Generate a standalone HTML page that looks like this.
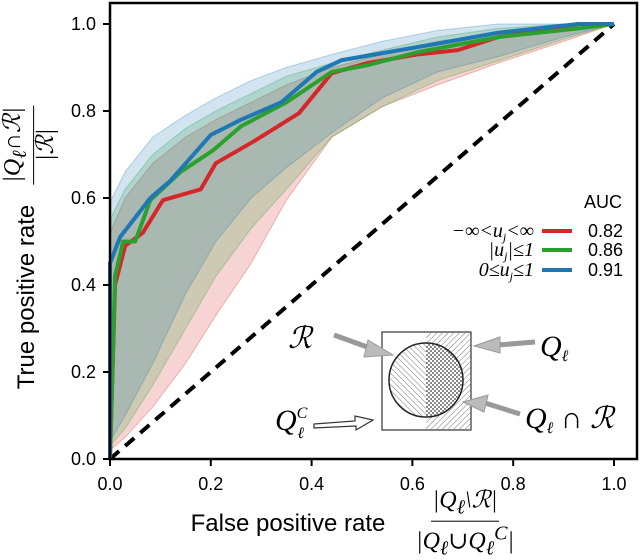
<!DOCTYPE html>
<html><head><meta charset="utf-8"><style>
body{margin:0;background:#fff;}
#wrap{position:relative;width:640px;height:560px;overflow:hidden;font-family:"Liberation Sans",sans-serif;}
.m{font-family:"Liberation Serif","DejaVu Serif",serif;font-style:italic;}
.frac{position:absolute;display:flex;flex-direction:column;align-items:center;font-size:24px;line-height:25px;white-space:nowrap;}
.frac .num{border-bottom:1.5px solid #000;padding:0 2px;}
</style></head><body>
<div id="wrap">
<svg id="chart" width="640" height="560" style="position:absolute;left:0;top:0">
<defs>
<pattern id="hatchA" width="4" height="4" patternUnits="userSpaceOnUse" patternTransform="rotate(45)"><line x1="0" y1="0" x2="0" y2="4" stroke="#777" stroke-width="1"/></pattern>
<pattern id="hatchB" width="4" height="4" patternUnits="userSpaceOnUse" patternTransform="rotate(-45)"><line x1="0" y1="0" x2="0" y2="4" stroke="#777" stroke-width="1"/></pattern>
<pattern id="check" width="4" height="4" patternUnits="userSpaceOnUse"><rect width="2" height="2" fill="#888"/><rect x="2" y="2" width="2" height="2" fill="#888"/></pattern>
</defs>
<g id="bands"></g><g id="lines"></g><g id="axes"></g>
</svg>
<div class="frac" style="left:465px;top:525px;transform:translate(-50%,-50%)"><span class="num m">|Q<sub>ℓ</sub>\ℛ|</span><span class="m">|Q<sub>ℓ</sub>∪Q<sub>ℓ</sub><sup>C</sup>|</span></div>
<div style="position:absolute;left:288px;top:524px;transform:translate(-50%,-50%);font-size:24px;white-space:nowrap">False positive rate</div>
<div style="position:absolute;left:27px;top:297px;transform:translate(-50%,-50%) rotate(-90deg);font-size:24px;white-space:nowrap">True positive rate</div>
<div class="frac" style="left:30px;top:145px;transform:translate(-50%,-50%) rotate(-90deg)"><span class="num m">|Q<sub>ℓ</sub>∩ℛ|</span><span class="m">|ℛ|</span></div>
</div>
<script>
const fprBlue=[0,0,0.02,0.08,0.12,0.20,0.26,0.34,0.41,0.46,0.675,0.77,0.93,1.0];
const tprBlue=[0,0.45,0.51,0.60,0.64,0.745,0.78,0.82,0.89,0.917,0.96,0.98,1.0,1.0];
const fprGreen=[0,0.01,0.026,0.05,0.08,0.14,0.205,0.26,0.35,0.44,0.51,0.61,0.77,0.93,1.0];
const tprGreen=[0,0.42,0.50,0.50,0.595,0.66,0.71,0.765,0.82,0.89,0.905,0.935,0.97,0.99,1.0];
const fprRed=[0,0.01,0.03,0.065,0.105,0.18,0.21,0.285,0.375,0.44,0.51,0.61,0.69,0.77,0.93,1.0];
const tprRed=[0,0.40,0.49,0.52,0.595,0.62,0.68,0.73,0.795,0.887,0.91,0.93,0.94,0.97,1.0,1.0];
const bandX=[0,0.03,0.085,0.15,0.21,0.28,0.35,0.44,0.54,0.65,0.77,0.9,1.0];
const blueUp=[0.59,0.66,0.74,0.79,0.83,0.87,0.90,0.93,0.96,0.985,1.0,1.0,1.0];
const greenUp=[0.55,0.62,0.70,0.76,0.80,0.84,0.88,0.91,0.94,0.97,0.99,1.0,1.0];
const redUp=[0.52,0.60,0.68,0.74,0.78,0.82,0.86,0.90,0.93,0.96,0.98,1.0,1.0];
const blueLow=[0.04,0.10,0.22,0.38,0.50,0.60,0.67,0.75,0.83,0.89,0.925,0.97,1.0];
const greenLow=[0.03,0.07,0.17,0.30,0.42,0.53,0.62,0.74,0.81,0.87,0.915,0.965,1.0];
const redLow=[0.02,0.05,0.12,0.22,0.33,0.45,0.595,0.74,0.81,0.86,0.91,0.96,1.0];
const xTicks=[0,0.2,0.4,0.6,0.8,1.0];
const yTicks=[0,0.2,0.4,0.6,0.8,1.0];
const ns="http://www.w3.org/2000/svg";
const X=v=>110+v*504, Y=v=>459-v*435;
function mk(tag,parent){const e=document.createElementNS(ns,tag);document.getElementById(parent).appendChild(e);return e;}
function band(up,low,col,name){
  let d="M"+bandX.map((x,i)=>X(x)+","+Y(up[i])).join("L");
  for(let i=bandX.length-1;i>=0;i--)d+="L"+X(bandX[i])+","+Y(low[i]);
  const p=mk("path","bands");p.setAttribute("d",d+"Z");
  p.setAttribute("fill",col);p.setAttribute("fill-opacity","0.2");p.setAttribute("stroke",col);p.setAttribute("stroke-opacity","0.3");
  
  
}
band(redUp,redLow,"#d62728","band-red");
band(greenUp,greenLow,"#2ca02c","band-green");
band(blueUp,blueLow,"#1f77b4","band-blue");
const diag=mk("line","lines");
diag.setAttribute("x1",X(0));diag.setAttribute("y1",Y(0));diag.setAttribute("x2",X(1));diag.setAttribute("y2",Y(1));
diag.setAttribute("stroke","#000");diag.setAttribute("stroke-width","4");diag.setAttribute("stroke-dasharray","12,8");


function line(xs,ys,col,name){
  const p=mk("polyline","lines");
  p.setAttribute("points",xs.map((x,i)=>X(x)+","+Y(ys[i])).join(" "));
  p.setAttribute("fill","none");p.setAttribute("stroke",col);p.setAttribute("stroke-width","4");p.setAttribute("stroke-linejoin","round");
  
  
}
line(fprRed,tprRed,"#d62728","roc-line-red");
line(fprGreen,tprGreen,"#2ca02c","roc-line-green");
line(fprBlue,tprBlue,"#1f77b4","roc-line-blue");
const fr=mk("rect","axes");fr.setAttribute("x",110);fr.setAttribute("y",3);fr.setAttribute("width",527);fr.setAttribute("height",456);
fr.setAttribute("fill","none");fr.setAttribute("stroke","#000");fr.setAttribute("stroke-width","2.5");


xTicks.forEach(v=>{
  const t=mk("line","axes");t.setAttribute("x1",X(v));t.setAttribute("x2",X(v));t.setAttribute("y1",459);t.setAttribute("y2",466);t.setAttribute("stroke","#000");t.setAttribute("stroke-width","2");
  
  
  const l=mk("text","axes");l.setAttribute("x",X(v));l.setAttribute("y",490);l.setAttribute("text-anchor","middle");l.setAttribute("font-size","18");l.setAttribute("font-family","Liberation Sans");l.textContent=v.toFixed(1);
  
  
});
yTicks.forEach(v=>{
  const t=mk("line","axes");t.setAttribute("x1",103);t.setAttribute("x2",110);t.setAttribute("y1",Y(v));t.setAttribute("y2",Y(v));t.setAttribute("stroke","#000");t.setAttribute("stroke-width","2");
  
  
  const l=mk("text","axes");l.setAttribute("x",96);l.setAttribute("y",Y(v)+6);l.setAttribute("text-anchor","end");l.setAttribute("font-size","18");l.setAttribute("font-family","Liberation Sans");l.textContent=v.toFixed(1);
  
  
});
</script>
<svg width="640" height="560" style="position:absolute;left:0;top:0">
<g font-family="Liberation Sans" font-size="18">
<text x="603" y="208" text-anchor="middle">AUC</text>
<g><text x="534" y="237" text-anchor="end" font-family="Liberation Serif" font-style="italic" font-size="20">−∞&lt;u<tspan font-size="12" dy="4">j</tspan><tspan dy="-4">&lt;∞</tspan></text><line x1="542" y1="231" x2="572" y2="231" stroke="#d62728" stroke-width="4"/><text x="588" y="237">0.82</text></g>
<g><text x="534" y="256" text-anchor="end" font-family="Liberation Serif" font-style="italic" font-size="20">|u<tspan font-size="12" dy="4">j</tspan><tspan dy="-4">|≤1</tspan></text><line x1="542" y1="250" x2="572" y2="250" stroke="#2ca02c" stroke-width="4"/><text x="588" y="256">0.86</text></g>
<g><text x="534" y="276" text-anchor="end" font-family="Liberation Serif" font-style="italic" font-size="20">0≤u<tspan font-size="12" dy="4">j</tspan><tspan dy="-4">≤1</tspan></text><line x1="542" y1="270" x2="572" y2="270" stroke="#1f77b4" stroke-width="4"/><text x="588" y="276">0.91</text></g>
</g>
<g>
<rect x="382" y="332" width="89" height="98" fill="#fff" stroke="#333" stroke-width="1.2"/>
<rect x="426" y="332" width="45" height="98" fill="url(#hatchA)" stroke="none"/>
<clipPath id="lh"><rect x="380" y="330" width="46" height="100"/></clipPath>
<clipPath id="rh"><rect x="426" y="330" width="46" height="100"/></clipPath>
<circle cx="426" cy="380" r="37" fill="#fff"/>
<circle cx="426" cy="380" r="37" fill="url(#hatchB)" clip-path="url(#lh)"/>
<circle cx="426" cy="380" r="37" fill="url(#check)" clip-path="url(#rh)"/>
<circle cx="426" cy="380" r="37" fill="none" stroke="#222" stroke-width="1.5"/>
<g stroke="#999" stroke-width="5" fill="#bbb">
<line x1="334" y1="335" x2="370" y2="348"/><polygon points="368,340 393,355 364,357" stroke-width="1"/>
<line x1="535" y1="342" x2="498" y2="345"/><polygon points="500,337 474,346 500,353" stroke-width="1"/>
<line x1="520" y1="414" x2="485" y2="403"/><polygon points="488,395 463,402 484,412" stroke-width="1"/>
</g>
<g stroke="#333" stroke-width="1.2" fill="#fff"><polygon points="314,424 355,421 355,416 373,420 356,430 356,426 314,428"/></g>
<text x="300" y="348" font-family="Liberation Serif" font-style="italic" font-size="30" text-anchor="middle">ℛ</text>
<text x="540" y="356" font-family="Liberation Serif" font-style="italic" font-size="30">Q<tspan font-size="16" dy="5">ℓ</tspan></text>
<text x="525" y="428" font-family="Liberation Serif" font-style="italic" font-size="30">Q<tspan font-size="16" dy="5">ℓ</tspan><tspan dy="-5"> ∩ ℛ</tspan></text>
<text x="275" y="430" font-family="Liberation Serif" font-style="italic" font-size="30">Q<tspan font-size="16" dy="-12">C</tspan><tspan font-size="16" dx="-10" dy="20">ℓ</tspan></text>
</g>
</svg>
</body></html>
